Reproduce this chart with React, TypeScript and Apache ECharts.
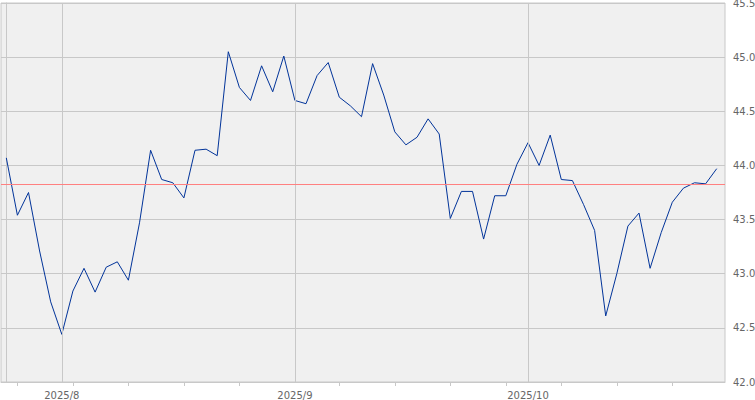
import { useEffect, useRef } from "react";
import * as echarts from "echarts";

// Trading-day calendar (US market) for the category dimension
const startDate = "2025-07-25";
const endDate = "2025-10-24";
const holidays = ["2025-09-01"];

// Daily closing values
const prices = [
  44.07, 43.54, 43.75, 43.21, 42.74, 42.44, 42.84, 43.05, 42.83, 43.06,
  43.11, 42.94, 43.47, 44.14, 43.87, 43.84, 43.7, 44.14, 44.15, 44.09,
  45.05, 44.72, 44.6, 44.92, 44.68, 45.01, 44.6, 44.57, 44.83, 44.95,
  44.63, 44.55, 44.45, 44.94, 44.65, 44.31, 44.19, 44.26, 44.43, 44.29,
  43.51, 43.76, 43.76, 43.32, 43.72, 43.72, 44.01, 44.21, 44.0, 44.28,
  43.87, 43.86, 43.64, 43.4, 42.61, 43.0, 43.44, 43.56, 43.05, 43.38,
  43.66, 43.79, 43.84, 43.83, 43.97,
];

const referenceLevel = 43.83;

const yMin = 42.0;
const yMax = 45.5;
const yStep = 0.5;

function parseUTC(s: string): Date {
  const [y, m, d] = s.split("-").map(Number);
  return new Date(Date.UTC(y, m - 1, d));
}

function fmt(d: Date): string {
  const y = d.getUTCFullYear();
  const m = String(d.getUTCMonth() + 1).padStart(2, "0");
  const dd = String(d.getUTCDate()).padStart(2, "0");
  return `${y}-${m}-${dd}`;
}

function tradingDays(): Date[] {
  const out: Date[] = [];
  const end = parseUTC(endDate).getTime();
  for (let d = parseUTC(startDate); d.getTime() <= end; d = new Date(d.getTime() + 86400000)) {
    const wd = d.getUTCDay();
    if (wd === 0 || wd === 6) continue;
    if (holidays.includes(fmt(d))) continue;
    out.push(d);
  }
  return out;
}

export default function App() {
  const ref = useRef<HTMLDivElement>(null);

  useEffect(() => {
    if (!ref.current) return;
    const chart = echarts.init(ref.current, undefined, { renderer: "svg" });

    const days = tradingDays();
    const monthIdx: number[] = [];
    const monthLabel: Record<number, string> = {};
    const mondayIdx: number[] = [];
    days.forEach((d, i) => {
      if (i > 0 && d.getUTCMonth() !== days[i - 1].getUTCMonth()) {
        monthIdx.push(i);
        monthLabel[i] = `${d.getUTCFullYear()}/${d.getUTCMonth() + 1}`;
      }
      if (d.getUTCDay() === 1) mondayIdx.push(i);
    });

    const n = prices.length;
    const xMin = -0.4775;
    const xMax = n - 1 + 0.747;

    const gray = "#c8c8c8";
    const labelStyle = {
      color: "#666",
      fontSize: 10,
      fontFamily: "DejaVu Sans, Verdana, sans-serif",
    };

    chart.setOption({
      animation: false,
      grid: {
        left: 1,
        right: 30,
        top: 3,
        bottom: 18,
        show: true,
        backgroundColor: "#f0f0f0",
        borderColor: gray,
        borderWidth: 1,
        outerBoundsMode: "none",
      },
      xAxis: {
        type: "value",
        min: xMin,
        max: xMax,
        splitLine: { show: false },
        axisLine: { show: true, lineStyle: { color: gray } },
        axisTick: {
          show: true,
          customValues: mondayIdx,
          length: 4,
          lineStyle: { color: gray },
        },
        axisLabel: {
          ...labelStyle,
          customValues: monthIdx,
          margin: 8,
          formatter: (v: number) => monthLabel[Math.round(v)] ?? "",
        },
      },
      yAxis: {
        type: "value",
        position: "right",
        min: yMin,
        max: yMax,
        interval: yStep,
        axisLine: { show: true, lineStyle: { color: gray } },
        axisTick: { show: true, length: 4, lineStyle: { color: gray } },
        axisLabel: {
          ...labelStyle,
          margin: 8,
          formatter: (v: number) => v.toFixed(1),
        },
        splitLine: { show: true, lineStyle: { color: gray, width: 1 } },
      },
      series: [
        {
          type: "line",
          data: [],
          z: 1,
          silent: true,
          markLine: {
            silent: true,
            symbol: "none",
            label: { show: false },
            lineStyle: { color: gray, type: "solid", width: 1 },
            emphasis: { disabled: true },
            data: monthIdx.map((i) => ({ xAxis: i })),
          },
        },
        {
          type: "line",
          z: 2,
          silent: true,
          markLine: {
            silent: true,
            symbol: "none",
            label: { show: false },
            lineStyle: { color: "#ff8080", type: "solid", width: 1 },
            emphasis: { disabled: true },
            data: [{ yAxis: referenceLevel }],
          },
          data: [],
        },
        {
          type: "line",
          z: 3,
          data: prices.map((v, i) => [i, v]),
          showSymbol: false,
          symbol: "none",
          lineStyle: { color: "#003399", width: 1 },
          emphasis: { disabled: true },
        },
      ],
    });

    return () => chart.dispose();
  }, []);

  return (
    <div
      ref={ref}
      style={{ position: "absolute", left: 0, top: 0, width: 755, height: 400 }}
    />
  );
}
